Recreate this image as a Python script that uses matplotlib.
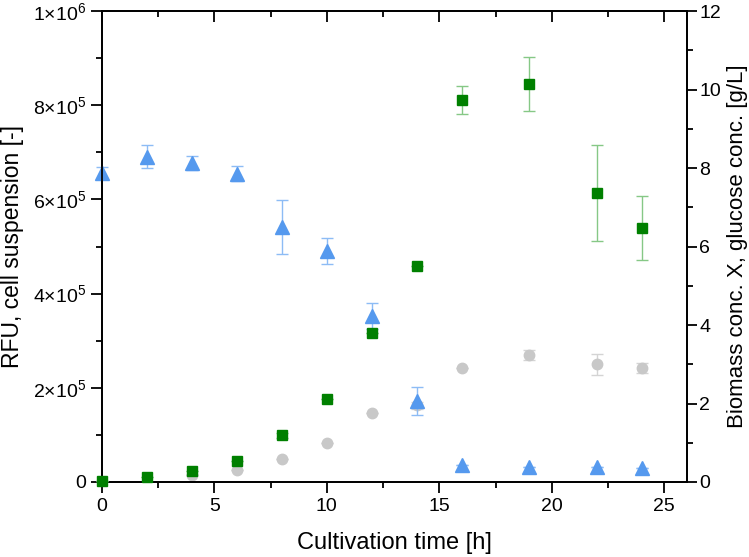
import numpy as np
import matplotlib.pyplot as plt
from matplotlib.ticker import MultipleLocator, FuncFormatter

plt.rcParams['font.family'] = ['Liberation Sans', 'DejaVu Sans']
plt.rcParams['mathtext.fontset'] = 'custom'
plt.rcParams['mathtext.rm'] = 'Liberation Sans'
plt.rcParams['mathtext.it'] = 'Liberation Sans'

# cultivation time [h]
time = [0, 2, 4, 6, 8, 10, 12, 14, 16, 19, 22, 24]

# RFU of cell suspension (left axis)
rfu = [2000, 10000, 23000, 45000, 99000, 177000, 316000, 459000, 811000, 845000, 614000, 539000]
rfu_err = [0, 0, 0, 0, 6000, 0, 0, 0, 30000, 58000, 102000, 68000]

# biomass X [g/L] (right axis)
biomass_t = [4, 6, 8, 10, 12, 14, 16, 19, 22, 24]
biomass = [0.18, 0.3, 0.59, 1.0, 1.75, 1.95, 2.91, 3.24, 3.0, 2.9]
biomass_err = [0, 0, 0, 0, 0, 0.1, 0, 0.12, 0.27, 0.13]

# glucose [g/L] (right axis)
glucose = [7.88, 8.29, 8.14, 7.86, 6.5, 5.89, 4.23, 2.07, 0.43, 0.39, 0.37, 0.36]
glucose_err = [0.16, 0.3, 0.18, 0.2, 0.68, 0.33, 0.33, 0.36, 0, 0, 0, 0]

fig = plt.figure(figsize=(7.49, 5.57), dpi=100)
ax = fig.add_axes([0.136, 0.1347, 0.781, 0.8453])
ax2 = ax.twinx()

ax2.errorbar(biomass_t, biomass, yerr=biomass_err, fmt='o', color='#c8c8c8', ms=7.5,
             ecolor='#d4d4d4', elinewidth=1, capsize=4, capthick=1, clip_on=False, zorder=2)
ax2.errorbar(time, glucose, yerr=glucose_err, fmt='^', color='#5599ee', ms=9.5,
             ecolor='#8dbcf5', elinewidth=1, capsize=4.5, capthick=1, clip_on=False, zorder=3)
ax.errorbar(time, rfu, yerr=rfu_err, fmt='s', color='#008000', ms=7,
            ecolor='#86c886', elinewidth=1, capsize=4.5, capthick=1, clip_on=False, zorder=4)

ax.set_zorder(ax2.get_zorder() + 1)
ax.patch.set_visible(False)

ax.set_xlim(0, 26)
ax.set_ylim(0, 1e6)
ax2.set_ylim(0, 12)

def sci(v, pos):
    if v <= 0:
        return '0'
    e = int(np.floor(np.log10(v) + 1e-9))
    m = v / 10 ** e
    return r'$%d{\times}10^{%d}$' % (round(m), e)

ax.yaxis.set_major_locator(MultipleLocator(2e5))
ax.yaxis.set_minor_locator(MultipleLocator(1e5))
ax.yaxis.set_major_formatter(FuncFormatter(sci))
ax.xaxis.set_major_locator(MultipleLocator(5))
ax.xaxis.set_minor_locator(MultipleLocator(2.5))
ax2.yaxis.set_major_locator(MultipleLocator(2))
ax2.yaxis.set_minor_locator(MultipleLocator(1))

ax.tick_params(which='both', direction='out', labelsize=14, width=1.3)
ax.tick_params(which='major', length=8)
ax.tick_params(which='minor', length=4)
ax.tick_params(axis='x', which='both', top=True)
ax2.tick_params(which='both', direction='out', labelsize=14, width=1.3, pad=2)
ax2.tick_params(which='major', length=7)
ax2.tick_params(which='minor', length=4)

# top ticks point inward
for t in ax.xaxis.get_major_ticks() + ax.xaxis.get_minor_ticks():
    t.tick2line.set_marker(3)

for a in (ax, ax2):
    for s in a.spines.values():
        s.set_linewidth(1.3)

ax.set_xlabel('Cultivation time [h]', fontsize=17, labelpad=12)
ax.set_ylabel('RFU, cell suspension [-]', fontsize=16.5, labelpad=6)
ax2.set_ylabel('Biomass conc. X, glucose conc. [g/L]', fontsize=16, labelpad=4)

fig.savefig('out.png', dpi=100)
